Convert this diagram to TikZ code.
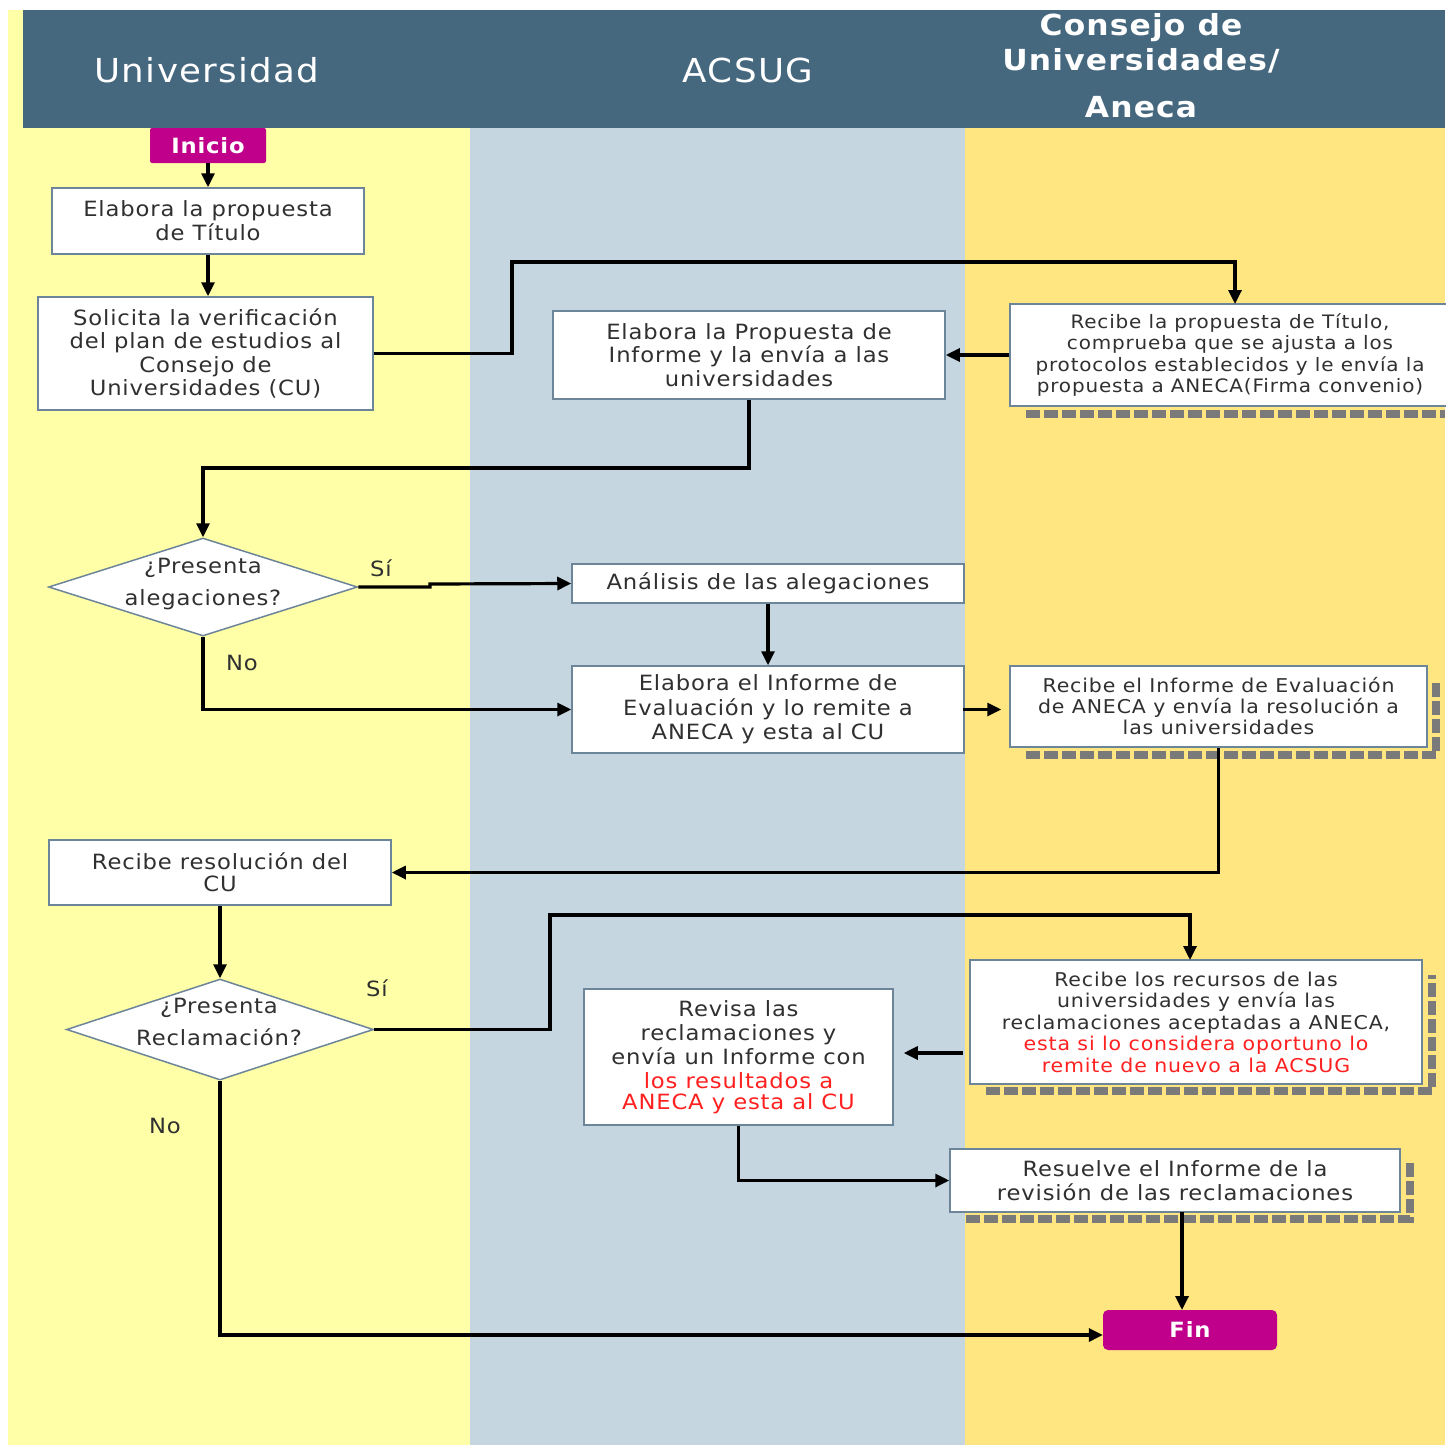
\documentclass[tikz,border=0pt]{standalone}
\usepackage{fontspec}
\setmainfont{DejaVu Sans}
\newfontfamily\spc[FakeStretch=1.08,LetterSpace=4]{DejaVu Sans}
\newfontfamily\spcs[FakeStretch=1.08,LetterSpace=4.5]{DejaVu Sans}
\usetikzlibrary{shapes.geometric,arrows.meta}
\definecolor{laneA}{HTML}{FFFFA8}
\definecolor{laneB}{HTML}{C5D6E0}
\definecolor{laneC}{HTML}{FFE680}
\definecolor{headc}{HTML}{46687F}
\definecolor{magc}{HTML}{C0008A}
\definecolor{redt}{HTML}{FF2020}
\definecolor{txt}{HTML}{303030}
\definecolor{bord}{HTML}{6D8599}
\definecolor{shad}{HTML}{7A7A7A}
\newcommand{\fs}[2]{\fontsize{#1}{#2}\selectfont}
\tikzset{
  box/.style={draw=bord, line width=1.5pt, fill=white, inner sep=0pt, align=center, text=txt},
  shadowbox/.style={draw=shad, line width=8pt, dash pattern=on 14pt off 4pt},
  conn/.style={line width=3.2pt, -{Triangle[length=14pt,width=13pt]}},
  lbl/.style={text=txt, font=\spc\fs{21}{24}},
  term/.style={fill=magc, text=white, font=\spc\bfseries\fs{21}{24}, inner sep=0pt}
}
\begin{document}
\begin{tikzpicture}[x=1pt,y=-1pt]
\useasboundingbox (0,0) rectangle (1445,1445);
\fill[white] (0,0) rectangle (1445,1445);
% lanes
\fill[laneA] (8,10) rectangle (470,1445);
\fill[laneB] (470,128) rectangle (965,1445);
\fill[laneC] (965,128) rectangle (1445,1445);
\fill[headc] (23,10) rectangle (1445,128);
\node[text=white, font=\spc\fs{33}{40}] (hU) at (207,70) {Universidad};
\node[text=white, font=\spc\fs{33}{40}] (hA) at (748,70) {ACSUG};
\node[text=white, font=\spc\bfseries\fs{29}{34}] (hC1) at (1141,28) {Consejo de};
\node[text=white, font=\spc\bfseries\fs{29}{34}] (hC2) at (1141,61) {Universidades/};
\node[text=white, font=\spc\bfseries\fs{29}{34}] (hC3) at (1141,107) {Aneca};

% shadows
\draw[shadowbox] (1026,414) -- (1445,414);
\draw[shadowbox] (1026,755) -- (1436,755) -- (1436,682);
\draw[shadowbox] (986,1091) -- (1432,1091) -- (1432,975);
\draw[shadowbox] (966,1219) -- (1410,1219) -- (1410,1163);

% nodes
\node[term, minimum width=116, minimum height=35, rounded corners=2pt] (ini) at (208,145.5) {Inicio};
\node[box, font=\spc\fs{21}{24}, minimum width=312, minimum height=66] (b1) at (208,221) {Elabora la propuesta\\de Título};
\node[box, font=\spc\fs{21}{23.5}, minimum width=335, minimum height=113] (b2) at (205.5,353.5) {Solicita la verificación\\del plan de estudios al\\Consejo de\\Universidades (CU)};
\node[box, font=\spc\fs{21}{23.5}, minimum width=392, minimum height=88] (b3) at (749,355) {Elabora la Propuesta de\\Informe y la envía a las\\universidades};
\node[box, font=\spcs\fs{18.5}{21.5}, minimum width=440, minimum height=102] (b4) at (1230,355) {Recibe la propuesta de Título,\\comprueba que se ajusta a los\\protocolos establecidos y le envía la\\propuesta a ANECA(Firma convenio)};
\node[diamond, draw=bord, line width=1.5pt, fill=white, minimum width=309, minimum height=98, inner sep=0pt, aspect=3.15] (d1) at (203,587) {};
\node[lbl, align=center, font=\spc\fs{21}{32}] (d1t) at (203,584) {¿Presenta\\alegaciones?};
\node[box, font=\spc\fs{21}{24}, minimum width=392, minimum height=39] (b5) at (768,583.5) {Análisis de las alegaciones};
\node[box, font=\spc\fs{21}{24.5}, minimum width=392, minimum height=87] (b6) at (768,709.5) {Elabora el Informe de\\Evaluación y lo remite a\\ANECA y esta al CU};
\node[box, font=\spcs\fs{19}{21}, minimum width=417, minimum height=81] (b7) at (1218.5,706.5) {Recibe el Informe de Evaluación\\de ANECA y envía la resolución a\\las universidades};
\node[box, font=\spc\fs{21}{22}, minimum width=342, minimum height=65] (b8) at (220,872.5) {Recibe resolución del\\CU};
\node[diamond, draw=bord, line width=1.5pt, fill=white, minimum width=307, minimum height=101, inner sep=0pt, aspect=3.04] (d2) at (220,1029.5) {};
\node[lbl, align=center, font=\spc\fs{21}{32}] (d2t) at (219,1022) {¿Presenta\\Reclamación?};
\node[box, font=\spc\fs{21}{24}, minimum width=309, minimum height=136] (b9) at (738.5,1057) {Revisa las\\reclamaciones y\\envía un Informe con\\\textcolor{redt}{los resultados a}\\[-3pt]\textcolor{redt}{ANECA y esta al CU}};
\node[box, font=\spcs\fs{19}{21.5}, minimum width=452, minimum height=124] (b10) at (1196,1022) {Recibe los recursos de las\\universidades y envía las\\reclamaciones aceptadas a ANECA,\\\textcolor{redt}{esta si lo considera oportuno lo}\\\textcolor{redt}{remite de nuevo a la ACSUG}};
\node[box, font=\spc\fs{21}{24}, minimum width=450, minimum height=63] (b11) at (1175,1180.5) {Resuelve el Informe de la\\revisión de las reclamaciones};
\node[term, minimum width=174, minimum height=40, rounded corners=5pt] (fin) at (1190,1330) {Fin};

% labels
\node[lbl] (s1) at (381,568) {Sí};
\node[lbl] (n1) at (242,663) {No};
\node[lbl] (s2) at (377,988) {Sí};
\node[lbl] (n2) at (165,1126) {No};

% connectors
\draw[conn] (ini.south) -- (b1.north);
\draw[conn] (b1.south) -- (b1.south |- b2.north);
\draw[conn] (b2.east) -- (512,353.5) -- (512,262) -- (1235,262) -- (1235,304);
\draw[conn] (b4.west) -- (b3.east);
\draw[conn] (b3.south) -- (749,468) -- (203,468) -- (d1.north);
\draw[conn] (d1.east) -- (430,587) -- (430,584) -- (b5.west);
\draw[conn] (b5.south) -- (b6.north);
\draw[conn] (d1.south) -- (203,709.5) -- (b6.west);
\draw[conn, shorten <=-2pt, shorten >=8pt] (b6.east) -- (b6.east -| b7.west);
\draw[conn] (b7.south) -- (1218.5,872.5) -- (b8.east);
\draw[conn] (b8.south) -- (d2.north);
\draw[conn] (d2.east) -- (550,1029.5) -- (550,915) -- (1190,915) -- (1190,960);
\draw[conn, shorten >=10pt, shorten <=6pt] (b10.west |- 0,1053) -- (b9.east |- 0,1053);
\draw[conn] (b9.south) -- (738.5,1180.5) -- (b11.west);
\draw[conn] (1182,1212) -- (1182,1310);
\draw[conn] (d2.south) -- (220,1335) -- (fin.west |- 0,1335);
\end{tikzpicture}
\end{document}
